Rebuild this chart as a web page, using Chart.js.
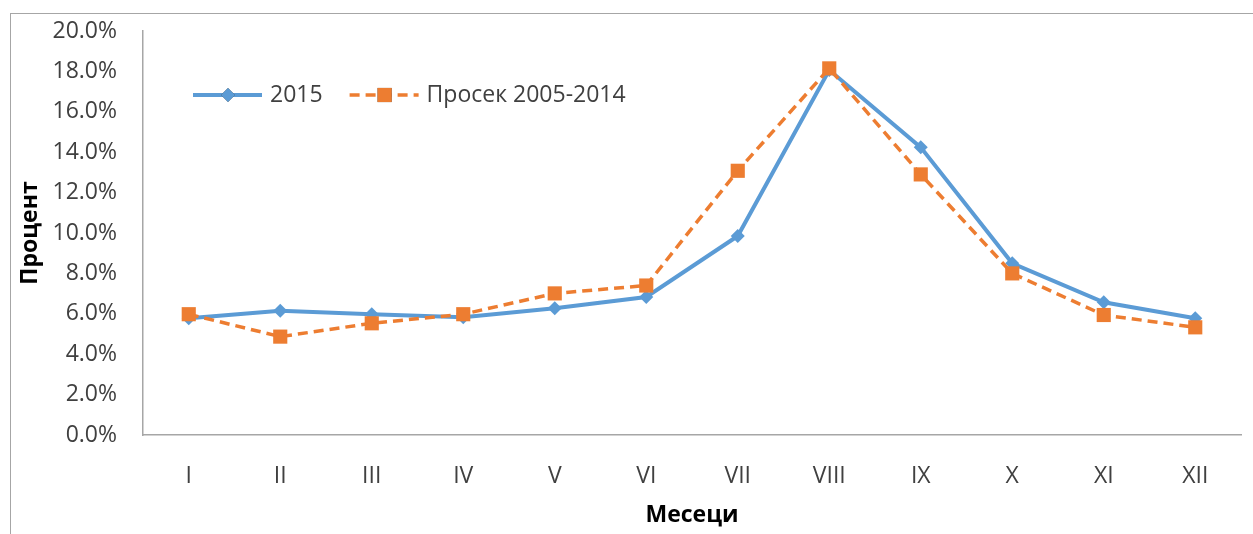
<!DOCTYPE html>
<html>
<head>
<meta charset="utf-8">
<script src="https://cdn.jsdelivr.net/npm/chart.js@4"></script>
<style>
  html, body { margin: 0; padding: 0; background: #fff; overflow: hidden; }
  #wrap { position: relative; width: 1253px; height: 534px; }
  #frame { position: absolute; left: 10px; top: 13px; width: 1300px; height: 600px; border: 1px solid #a6a6a6; }
  #chart { position: absolute; left: 0; top: 0; }
</style>
</head>
<body>
<div id="wrap">
  <div id="frame"></div>
  <canvas id="chart" width="1253" height="534"></canvas>
</div>
<script>
const months = ['I', 'II', 'III', 'IV', 'V', 'VI', 'VII', 'VIII', 'IX', 'X', 'XI', 'XII'];
const year2015 = [5.78, 6.15, 5.98, 5.83, 6.27, 6.83, 9.85, 18.07, 14.24, 8.5, 6.57, 5.78];
const avg2005_2014 = [5.98, 4.87, 5.53, 5.98, 7.01, 7.4, 13.08, 18.15, 12.9, 8.0, 5.94, 5.33];
const seriesNames = ['2015', 'Просек 2005-2014'];

const blue = '#5b9bd5';
const orange = '#ed7d31';
const textColor = '#404040';
const axisColor = '#a6a6a6';

Chart.defaults.font.family = "'Open Sans', sans-serif";
Chart.defaults.color = textColor;

// legend sits inside the plot area, top-left, like the original
const insideLegend = {
    id: 'insideLegend',
    afterDraw(chart) {
        const ctx = chart.ctx;
        const area = chart.chartArea;
        const y = area.top + 64;
        let x = area.left + 50;
        ctx.save();
        ctx.font = "23px 'Open Sans', sans-serif";
        ctx.fillStyle = textColor;
        ctx.textBaseline = 'middle';
        chart.data.datasets.forEach((ds) => {
            ctx.strokeStyle = ds.borderColor;
            ctx.lineWidth = ds.borderWidth;
            ctx.setLineDash(ds.borderDash || []);
            ctx.beginPath();
            ctx.moveTo(x, y);
            ctx.lineTo(x + 69, y);
            ctx.stroke();
            ctx.setLineDash([]);
            Chart.helpers.drawPoint(ctx, {
                pointStyle: ds.pointStyle,
                radius: ds.pointRadius,
                borderWidth: 0,
                rotation: 0
            }, x + 35, y);
            ctx.fillStyle = ds.backgroundColor;
            ctx.fill();
            ctx.fillStyle = textColor;
            ctx.fillText(ds.label, x + 77, y);
            x += 77 + ctx.measureText(ds.label).width + 27;
        });
        ctx.restore();
    }
};

new Chart(document.getElementById('chart').getContext('2d'), {
    type: 'line',
    data: {
        labels: months,
        datasets: [{
            label: seriesNames[0],
            data: year2015,
            borderColor: blue,
            backgroundColor: blue,
            borderWidth: 4,
            pointStyle: 'rectRot',
            pointRadius: 7,
            pointBorderWidth: 0,
            tension: 0,
            order: 2
        }, {
            label: seriesNames[1],
            data: avg2005_2014,
            borderColor: orange,
            backgroundColor: orange,
            borderWidth: 3.5,
            borderDash: [10, 6],
            pointStyle: 'rect',
            pointRadius: 10,
            pointBorderWidth: 0,
            tension: 0,
            order: 1
        }]
    },
    options: {
        responsive: false,
        animation: false,
        layout: { padding: { top: 31, right: 12, left: 0, bottom: 0 } },
        plugins: {
            legend: { display: false },
            tooltip: { enabled: false }
        },
        scales: {
            x: {
                offset: true,
                grid: { display: false, drawTicks: false },
                border: { color: axisColor, width: 1.5 },
                ticks: { padding: 28, font: { size: 23 }, color: textColor, maxRotation: 0 },
                title: {
                    display: true,
                    text: 'Месеци',
                    font: { size: 23, weight: 'bold' },
                    color: '#000',
                    padding: { top: 0, bottom: 5 }
                },
                afterFit: (s) => { s.height = 99; }
            },
            y: {
                min: 0,
                max: 20,
                grid: { display: false, drawTicks: false },
                border: { color: axisColor, width: 1.5 },
                ticks: {
                    stepSize: 2,
                    padding: 26,
                    font: { size: 23 },
                    color: textColor,
                    callback: (v) => v.toFixed(1) + '%'
                },
                title: {
                    display: true,
                    text: 'Процент',
                    font: { size: 23, weight: 'bold' },
                    color: '#000',
                    padding: { top: 17, bottom: 0 }
                },
                afterFit: (s) => {
                    s.width = 143;
                    s.paddingTop = 0;
                    s.paddingBottom = 0;
                }
            }
        }
    },
    plugins: [insideLegend]
});
</script>
</body>
</html>
